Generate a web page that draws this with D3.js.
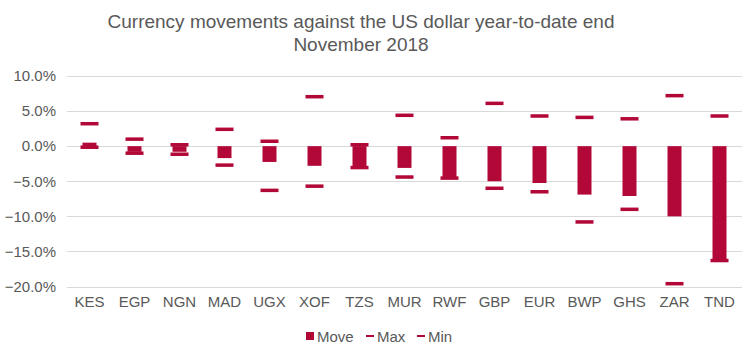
<!DOCTYPE html>
<html>
<head>
<meta charset="utf-8">
<script src="https://cdn.jsdelivr.net/npm/d3@7"></script>
<style>
  body { margin: 0; background: #fff; }
  text { font-family: "Liberation Sans", Arial, sans-serif; fill: #595959; }
</style>
</head>
<body>
<div id="chart"></div>
<script>
// data (percent)
const currencies = ["KES", "EGP", "NGN", "MAD", "UGX", "XOF", "TZS", "MUR", "RWF", "GBP", "EUR", "BWP", "GHS", "ZAR", "TND"]
const moveValues = [0.5, -0.8, -0.8, -1.7, -2.25, -2.8, -3.0, -3.1, -4.5, -5.0, -5.25, -6.9, -7.1, -10.0, -16.2]
const maxValues = [3.2, 1.0, 0.2, 2.4, 0.7, 7.05, 0.2, 4.4, 1.2, 6.1, 4.3, 4.1, 3.9, 7.2, 4.3]
const minValues = [-0.15, -1.0, -1.15, -2.7, -6.3, -5.7, -3.05, -4.4, -4.55, -6.0, -6.5, -10.8, -9.0, -19.6, -16.3]
const yTicks = [10, 5, 0, -5, -10, -15, -20]

const titleLines = ["Currency movements against the US dollar year-to-date end", "November 2018"]
const legendItems = ["Move", "Max", "Min"]

const color = "#B20838"
const W = 750, H = 350
const margin = {top: 76, right: 8, bottom: 63.5, left: 67}
const width = W - margin.left - margin.right
const height = H - margin.top - margin.bottom

const data = currencies.map((c, i) => ({c, move: moveValues[i], max: maxValues[i], min: minValues[i]}))

const svg = d3.select("#chart").append("svg")
    .attr("width", W)
    .attr("height", H)

// title
svg.append("text")
    .attr("x", 361)
    .attr("y", 28)
    .attr("text-anchor", "middle")
    .style("font-size", "19px")
    .selectAll("tspan")
    .data(titleLines)
    .join("tspan")
        .attr("x", 361)
        .attr("dy", (d, i) => i ? 23 : 0)
        .text(d => d)

const g = svg.append("g")
    .attr("transform", `translate(${margin.left},${margin.top})`)

const xScale = d3.scaleBand()
    .domain(currencies)
    .range([0, width])

const yScale = d3.scaleLinear()
    .domain([-20, 10])
    .range([height, 0])

// gridlines
g.append("g")
    .selectAll("line")
    .data(yTicks)
    .join("line")
        .attr("x1", 0)
        .attr("x2", width)
        .attr("y1", d => Math.round(yScale(d)) + 0.5)
        .attr("y2", d => Math.round(yScale(d)) + 0.5)
        .attr("stroke", "#D9D9D9")
        .attr("stroke-width", 1)

// y axis labels
const yAx = d3.axisLeft(yScale)
    .tickValues(yTicks)
    .tickFormat(d => d3.format(".1f")(d) + "%")
    .tickSize(0)
    .tickPadding(11)

g.append("g")
    .call(yAx)
    .call(a => a.select(".domain").remove())
    .call(a => a.selectAll("text")
        .style("font-size", "15px")
        .attr("fill", "#595959"))

// x axis labels
const xAx = d3.axisBottom(xScale).tickSize(0).tickPadding(10)
g.append("g")
    .attr("transform", `translate(0,${height})`)
    .call(xAx)
    .call(a => a.select(".domain").remove())
    .call(a => a.selectAll("text")
        .style("font-size", "15px")
        .attr("fill", "#595959"))

// move bars
const barW = 14
g.append("g")
    .selectAll("rect")
    .data(data)
    .join("rect")
        .attr("x", d => xScale(d.c) + xScale.bandwidth() / 2 - barW / 2)
        .attr("y", d => yScale(Math.max(0, d.move)))
        .attr("width", barW)
        .attr("height", d => Math.abs(yScale(d.move) - yScale(0)))
        .attr("fill", color)

// max / min markers
const markW = 18, markH = 3.5
for (const key of ["max", "min"]) {
    g.append("g")
        .selectAll("rect")
        .data(data)
        .join("rect")
            .attr("x", d => xScale(d.c) + xScale.bandwidth() / 2 - markW / 2)
            .attr("y", d => yScale(d[key]) - markH / 2)
            .attr("width", markW)
            .attr("height", markH)
            .attr("fill", color)
}

// legend
const legend = svg.append("g")
const legendX = [306, 366, 417]
legendItems.forEach((name, i) => {
    const item = legend.append("g").attr("transform", `translate(${legendX[i]},336)`)
    if (i === 0) {
        item.append("rect").attr("x", 0).attr("y", -4).attr("width", 8).attr("height", 8).attr("fill", color)
    } else {
        item.append("rect").attr("x", 0).attr("y", -1).attr("width", 8).attr("height", 2).attr("fill", color)
    }
    item.append("text")
        .attr("x", 11)
        .attr("y", 5.5)
        .style("font-size", "15px")
        .text(name)
})
</script>
</body>
</html>
